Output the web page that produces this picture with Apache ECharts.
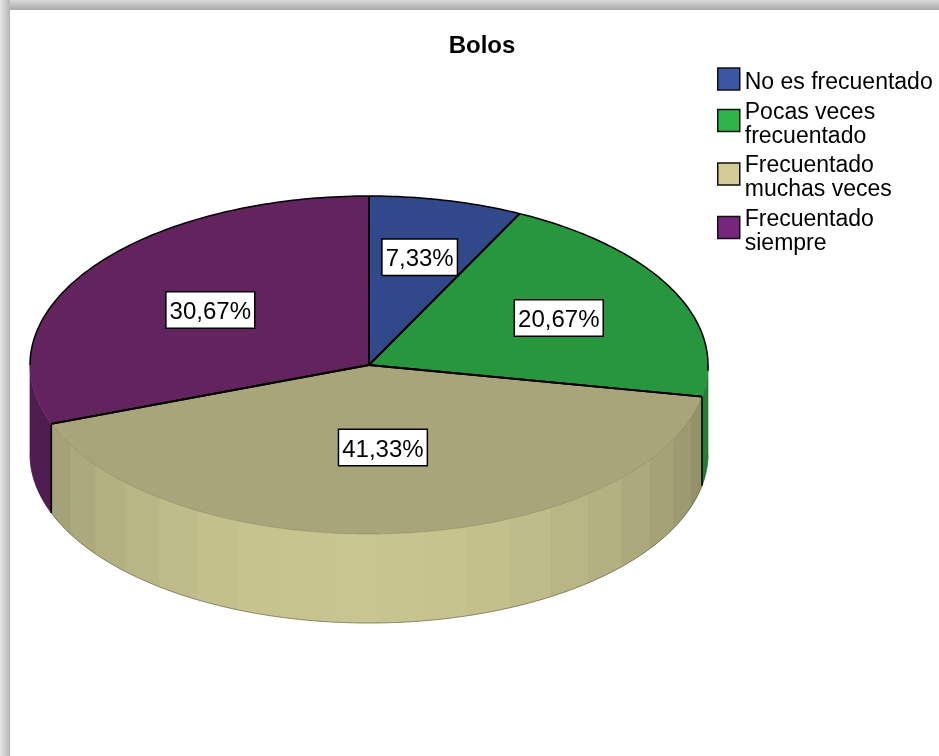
<!DOCTYPE html>
<html>
<head>
<meta charset="utf-8">
<style>html,body{margin:0;padding:0;background:#fff}#c{width:939px;height:756px}</style>
<script src="https://cdn.jsdelivr.net/npm/echarts@6/dist/echarts.min.js"></script>
</head>
<body>
<div id="c"></div>
<script>
var categories = ['No es frecuentado', 'Pocas veces\nfrecuentado', 'Frecuentado\nmuchas veces', 'Frecuentado\nsiempre'];
var percentages = [7.33, 20.67, 41.33, 30.67];
var percentLabels = ['7,33%', '20,67%', '41,33%', '30,67%'];
var chartTitle = 'Bolos';

var layoutPie = {cx: 369, cy: 365, rx: 339, ry: 169, depth: 89, strips: 19};
var labelRadius = [0.655, 0.625, 0.49, 0.57];
var topColors = ['#31488b', '#28963e', '#a9a57a', '#62235f'];
var sideColors = ['#2a3d76', '#237f37', '#c8c590', '#4f1c50'];
var legendColors = ['#3a56a5', '#2db44b', '#d2cc96', '#77257d'];

function pt(tDeg, dy) {
  var t = tDeg * Math.PI / 180;
  return [layoutPie.cx + layoutPie.rx * Math.sin(t), layoutPie.cy - layoutPie.ry * Math.cos(t) + (dy || 0)];
}
function arc(a, b, dy) {
  var out = [], n = Math.max(2, Math.ceil(Math.abs(b - a)));
  for (var i = 0; i <= n; i++) out.push(pt(a + (b - a) * i / n, dy));
  return out;
}
function shade(hex, f) {
  var v = parseInt(hex.slice(1), 16);
  var r = Math.round((v >> 16 & 255) * f), g = Math.round((v >> 8 & 255) * f), b = Math.round((v & 255) * f);
  return 'rgb(' + r + ',' + g + ',' + b + ')';
}
function line(points, w, color, z2) {
  return {type: 'polyline', z2: z2 || 3, shape: {points: points}, style: {fill: 'none', stroke: color, lineWidth: w, lineJoin: 'round'}};
}

var cum = 0;
var series = categories.map(function (name, i) {
  var start = cum;
  cum += percentages[i];
  return {
    name: name,
    type: 'custom',
    coordinateSystem: 'none',
    silent: true,
    animation: false,
    itemStyle: {color: legendColors[i]},
    data: [[start, percentages[i]]],
    renderItem: function (params, api) {
      var a0 = api.value(0) * 3.6, a1 = a0 + api.value(1) * 3.6;
      var d = layoutPie.depth, kids = [];
      var v0 = Math.max(a0, 90), v1 = Math.min(a1, 270);
      if (v1 > v0) {
        var n = i === 2 ? layoutPie.strips : 1;
        for (var k = 0; k < n; k++) {
          var s0 = v0 + (v1 - v0) * k / n, s1 = v0 + (v1 - v0) * (k + 1) / n;
          var m = (s0 + s1) / 2 * Math.PI / 180;
          var f = i === 2 ? 0.67 + 0.33 * Math.cos(m - 183 * Math.PI / 180) : 1;
          var col = shade(sideColors[i], f);
          kids.push({
            type: 'polygon', z2: 1,
            shape: {points: arc(s0, s1, 0).concat(arc(s1, s0, d))},
            style: {fill: col, stroke: col, lineWidth: 0.7}
          });
        }
        kids.push(line(arc(v0, v1, d), 0.5, i === 2 ? '#4a4a38' : 'rgba(0,0,0,0.4)', 2));
      }
      kids.push({
        type: 'polygon', z2: 2,
        shape: {points: [[layoutPie.cx, layoutPie.cy]].concat(arc(a0, a1, 0))},
        style: {fill: topColors[i], stroke: null}
      });
      kids.push(line([pt(a0), [layoutPie.cx, layoutPie.cy]], 1.8, '#000'));
      kids.push(line([pt(a1), [layoutPie.cx, layoutPie.cy]], 1.8, '#000'));
      if (i === 1) kids.push(line(arc(a0, 92, 0), 1.5, '#000'));
      if (i === 3) kids.push(line(arc(270, a1, 0), 1.5, '#000'));
      if (i === 0) kids.push(line(arc(a0, a1, 0), 1.5, '#000'));
      if (i === 2) {
        kids.push(line(arc(a0, a1, 0), 0.5, 'rgba(70,70,50,0.45)'));
        kids.push(line([pt(a0), pt(a0, d)], 1.6, '#000'));
        kids.push(line([pt(a1), pt(a1, d)], 1.6, '#000'));
      }
      var mid = pt((a0 + a1) / 2);
      var lr = labelRadius[i];
      var lx = layoutPie.cx + (mid[0] - layoutPie.cx) * lr;
      var ly = layoutPie.cy + (mid[1] - layoutPie.cy) * lr;
      var font = {fontFamily: '"Liberation Sans"', fontSize: 24, align: 'center', verticalAlign: 'middle'};
      kids.push({
        type: 'text', z2: 5, x: lx, y: ly,
        style: Object.assign({
          text: percentLabels[i], fill: 'rgba(0,0,0,0)',
          backgroundColor: '#fff', borderColor: '#000', borderWidth: 1.5,
          padding: [5.5, 3, 5.5, 3]
        }, font)
      });
      kids.push({
        type: 'text', z2: 6, x: lx, y: ly + 2.5,
        style: Object.assign({text: percentLabels[i], fill: '#000'}, font)
      });
      return {type: 'group', children: kids};
    }
  };
});

var chart = echarts.init(document.getElementById('c'), null, {renderer: 'canvas'});
chart.setOption({
  animation: false,
  backgroundColor: '#fff',
  title: {
    text: chartTitle, left: 477, top: 29, textAlign: 'center',
    textStyle: {fontFamily: '"Liberation Sans"', fontSize: 24, fontWeight: 'bold', color: '#000'}
  },
  legend: {
    left: 712, top: 58, orient: 'vertical', icon: 'rect',
    itemWidth: 22, itemHeight: 22, itemGap: -2, align: 'left',
    selectedMode: false,
    formatter: function (name) {
      return '{s| }\n' + name.split('\n').map(function (l) { return '{t|' + l + '}'; }).join('\n');
    },
    textStyle: {
      rich: {
        s: {fontSize: 1, lineHeight: 8, height: 8},
        t: {fontFamily: '"Liberation Sans"', fontSize: 23, lineHeight: 24, color: '#000'}
      }
    },
    data: categories.map(function (c, i) {
      return {name: c, itemStyle: {color: legendColors[i], borderColor: '#111', borderWidth: 1.5}};
    })
  },
  graphic: [
    {type: 'rect', z: -10, silent: true, shape: {x: 0, y: 0, width: 939, height: 10},
      style: {fill: {type: 'linear', x: 0, y: 0, x2: 0, y2: 1, colorStops: [{offset: 0, color: '#dadada'}, {offset: 1, color: '#a9a9a9'}]}}},
    {type: 'rect', z: -10, silent: true, shape: {x: 0, y: 0, width: 10, height: 756},
      style: {fill: {type: 'linear', x: 0, y: 0, x2: 1, y2: 0, colorStops: [{offset: 0, color: '#e4e4e4'}, {offset: 1, color: '#b4b4b4'}]}}}
  ],
  series: series
});
</script>
</body>
</html>
